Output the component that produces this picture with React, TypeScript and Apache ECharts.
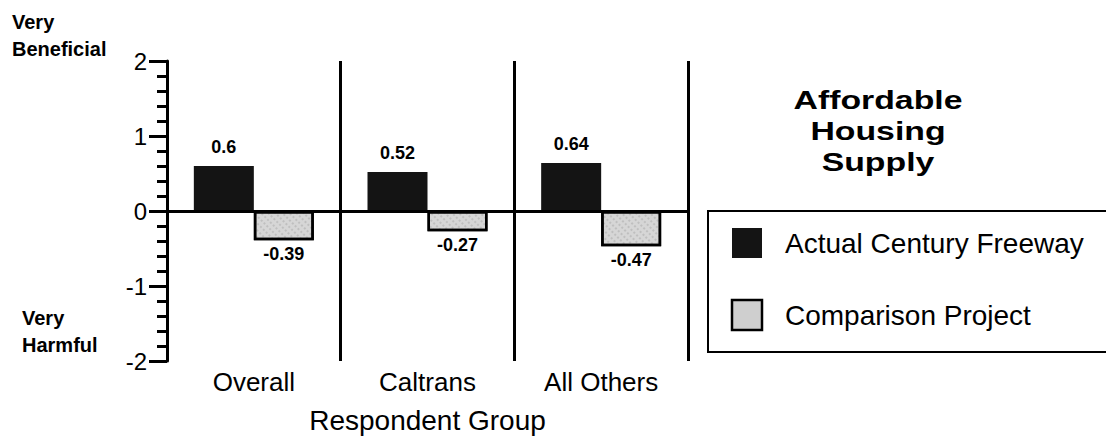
import React, { useEffect, useRef } from "react";
import * as echarts from "echarts";

const categories = ["Overall", "Caltrans", "All Others"];
const actualValues = [0.6, 0.52, 0.64];
const comparisonValues = [-0.39, -0.27, -0.47];
const seriesNames = ["Actual Century Freeway", "Comparison Project"];
const titleLines = ["Affordable", "Housing", "Supply"];
const axisTitle = "Respondent Group";
const topNote = ["Very", "Beneficial"];
const bottomNote = ["Very", "Harmful"];
const yMin = -2;
const yMax = 2;
const yStep = 1;

const FONT = "Arial, 'Liberation Sans', Helvetica, sans-serif";

export default function App() {
  const ref = useRef<HTMLDivElement>(null);

  useEffect(() => {
    if (!ref.current) return;
    const chart = echarts.init(ref.current, null, { renderer: "svg" });

    const gridLeft = 167;
    const gridRight = 688;
    const gridTop = 61;
    const gridBottom = 361;

    const titleGraphics = titleLines.map((t, i) => ({
      type: "text",
      x: 878,
      y: 100 + i * 31,
      scaleX: 1.3,
      style: {
        text: t,
        fontSize: 26,
        fontWeight: 900,
        fontFamily: FONT,
        fill: "#000",
        align: "center",
        verticalAlign: "middle",
        lineHeight: 26,
      },
    }));

    const noteText = (t: string, x: number, y: number) => ({
      type: "text",
      x,
      y,
      style: {
        text: t,
        fontSize: 20,
        fontWeight: "bold",
        fontFamily: FONT,
        fill: "#000",
        align: "left",
        verticalAlign: "middle",
      },
    });

    chart.setOption({
      animation: false,
      backgroundColor: "#ffffff",
      grid: {
        left: gridLeft,
        right: 1106 - gridRight,
        top: gridTop,
        bottom: 445 - gridBottom,
        containLabel: false,
      },
      xAxis: {
        type: "category",
        data: categories,
        axisLine: { show: false },
        axisTick: { show: false },
        splitLine: {
          show: true,
          interval: 0,
          lineStyle: { color: "#000", width: 3 },
        },
        axisLabel: {
          fontSize: 26,
          color: "#000",
          margin: 8,
          fontFamily: FONT,
          interval: 0,
        },
        name: axisTitle,
        nameLocation: "middle",
        nameGap: 45,
        nameTextStyle: { fontSize: 28, color: "#000", fontFamily: FONT },
      },
      yAxis: {
        type: "value",
        min: yMin,
        max: yMax,
        interval: yStep,
        axisLine: { show: true, lineStyle: { color: "#000", width: 3 } },
        axisTick: {
          show: true,
          length: 18,
          lineStyle: { color: "#000", width: 3 },
        },
        minorTick: {
          show: true,
          splitNumber: 5,
          length: 10,
          lineStyle: { color: "#000", width: 3 },
        },
        splitLine: { show: false },
        minorSplitLine: { show: false },
        axisLabel: {
          fontSize: 24,
          color: "#000",
          margin: 20,
          fontFamily: FONT,
        },
      },
      series: [
        {
          name: seriesNames[0],
          type: "bar",
          data: actualValues,
          barWidth: 60,
          barGap: "0%",
          itemStyle: { color: "#141414" },
          label: {
            show: true,
            position: "top",
            distance: 10,
            fontSize: 18,
            fontWeight: "bold",
            color: "#000",
            fontFamily: FONT,
          },
          markLine: {
            silent: true,
            symbol: ["none", "none"],
            label: { show: false },
            lineStyle: { color: "#000", width: 3, type: "solid" },
            data: [{ yAxis: 0 }],
          },
          z: 3,
        },
        {
          name: seriesNames[1],
          type: "bar",
          data: comparisonValues,
          barWidth: 60,
          barGap: "0%",
          itemStyle: {
            color: "#d6d6d6",
            borderColor: "#000",
            borderWidth: 2.5,
            decal: {
              symbol: "rect",
              symbolSize: 0.6,
              color: "rgba(0,0,0,0.35)",
              dashArrayX: [2, 2],
              dashArrayY: [2, 3],
              rotation: Math.PI / 4,
            },
          },
          label: {
            show: true,
            position: "bottom",
            distance: 5,
            fontSize: 18,
            fontWeight: "bold",
            color: "#000",
            fontFamily: FONT,
          },
          z: 3,
        },
      ],
      graphic: [
        noteText(topNote[0], 12, 22),
        noteText(topNote[1], 12, 49),
        noteText(bottomNote[0], 22, 318),
        noteText(bottomNote[1], 22, 345),
        ...titleGraphics,
        {
          type: "rect",
          shape: { x: 708, y: 211, width: 420, height: 141 },
          style: { fill: "none", stroke: "#000", lineWidth: 2 },
        },
        {
          type: "rect",
          shape: { x: 732, y: 228, width: 30, height: 30 },
          style: { fill: "#141414" },
        },
        {
          type: "rect",
          shape: { x: 732, y: 300, width: 30, height: 30 },
          style: { fill: "#cfcfcf", stroke: "#000", lineWidth: 2.5 },
        },
        {
          type: "text",
          x: 785,
          y: 243,
          style: {
            text: seriesNames[0],
            fontSize: 28,
            fontFamily: FONT,
            fill: "#000",
            align: "left",
            verticalAlign: "middle",
          },
        },
        {
          type: "text",
          x: 785,
          y: 315,
          style: {
            text: seriesNames[1],
            fontSize: 28,
            fontFamily: FONT,
            fill: "#000",
            align: "left",
            verticalAlign: "middle",
          },
        },
      ],
    });

    return () => chart.dispose();
  }, []);

  return (
    <div
      ref={ref}
      style={{
        position: "fixed",
        left: 0,
        top: 0,
        width: 1106,
        height: 445,
        background: "#fff",
      }}
    />
  );
}
